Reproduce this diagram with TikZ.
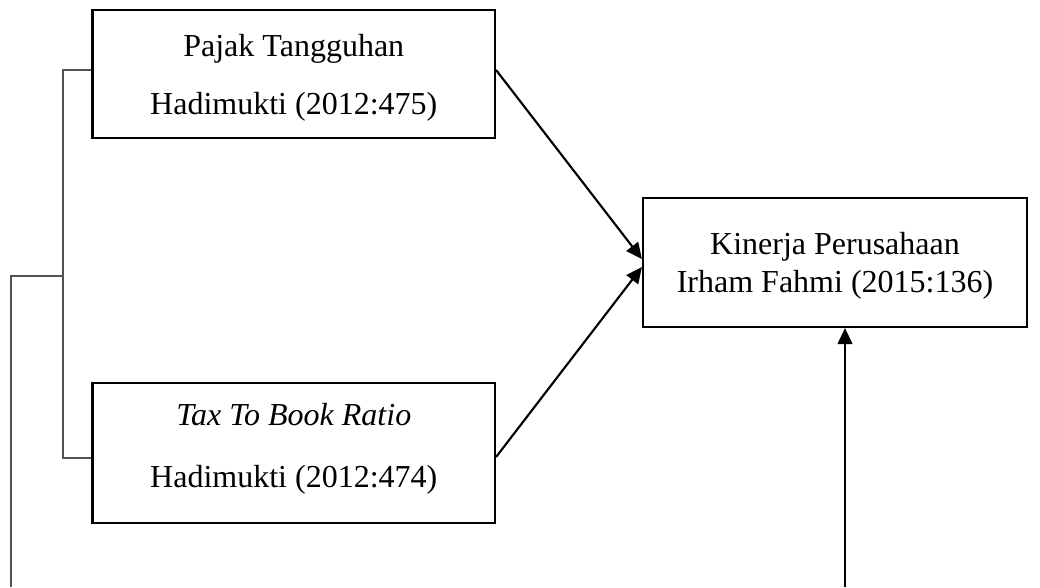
\documentclass[tikz,border=0pt]{standalone}
\usepackage{fontspec}
\setmainfont{Liberation Serif}
\usetikzlibrary{arrows.meta}
\begin{document}
\begin{tikzpicture}[x=0.75pt,y=-0.75pt,
  box/.style={draw,line width=1.6pt,rectangle,align=center,inner sep=0pt,
    font=\fontsize{24}{28.5}\selectfont},
  arr/.style={line width=1.6pt,-{Triangle[length=12pt,width=11pt]}},
  brk/.style={line width=1.2pt,draw=black!68}]
\useasboundingbox (0,0) rectangle (1040,587);
\node[box,minimum width=402.5*0.75pt,minimum height=128*0.75pt] (b1) at (293.75,74)
  {\rule{0pt}{22pt}Pajak Tangguhan\\[15pt]Hadimukti (2012:475)};
\node[box,minimum width=402.5*0.75pt,minimum height=140*0.75pt] (b2) at (293.75,453)
  {\textit{Tax To Book Ratio}\\[18pt]Hadimukti (2012:474)\rule[-12pt]{0pt}{0pt}};
\node[box,minimum width=384*0.75pt,minimum height=129*0.75pt] (b3) at (835,262.5)
  {\rule{0pt}{22pt}Kinerja Perusahaan\\Irham Fahmi (2015:136)};
% bracket
\coordinate (t1) at (63,70);
\coordinate (t2) at (63,458);
\coordinate (tm) at (63,276);
\coordinate (lm) at (11,276);
\coordinate (lb) at (11,587);
\coordinate (ab) at (845,587);
\draw[brk] ([yshift=3pt]b1.west) -- (t1) -- (t2) -- ([yshift=-3.75pt]b2.west);
\draw[brk] (tm) -- (lm) -- (lb);
% arrows
\draw[arr] ([yshift=3pt]b1.east) -- ([yshift=2.6pt]b3.west);
\draw[arr] ([yshift=-3pt]b2.east) -- ([yshift=-3.4pt]b3.west);
\draw[arr] (ab) -- (ab |- b3.south);
\end{tikzpicture}
\end{document}
